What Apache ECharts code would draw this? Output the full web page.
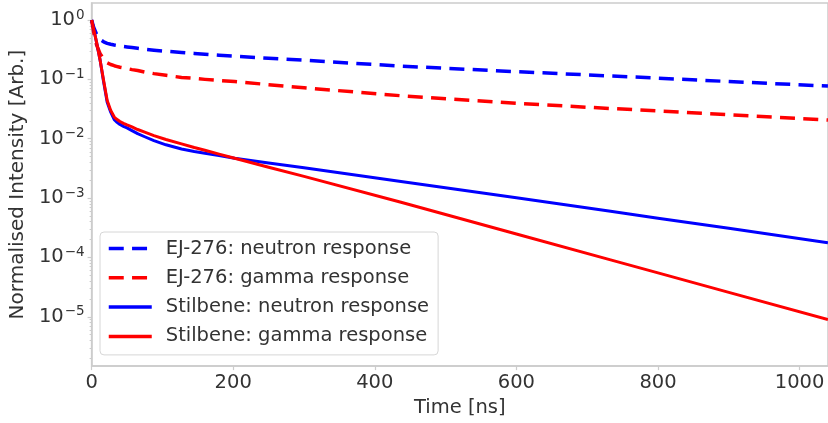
<!DOCTYPE html>
<html>
<head>
<meta charset="utf-8">
<script src="https://cdn.jsdelivr.net/npm/echarts@6/dist/echarts.min.js"></script>
<style>
html, body { margin: 0; padding: 0; background: #fff; }
#chart { width: 828px; height: 423px; }
</style>
</head>
<body>
<div id="chart"></div>
<script>
// time axis in ns, shared by all four curves
const times = [0, 3, 7, 12, 17, 22, 27, 32, 35, 40, 45, 50, 57, 65, 75, 88, 105, 127, 145, 160, 180, 202, 250, 300, 437, 600, 733, 800, 900, 1040]
const ej276Neutron = [1, 0.75, 0.58, 0.47, 0.43, 0.405, 0.39, 0.38, 0.375, 0.365, 0.358, 0.352, 0.344, 0.335, 0.322, 0.31, 0.297, 0.285, 0.274, 0.265, 0.255, 0.245, 0.227, 0.21, 0.167, 0.135, 0.114, 0.105, 0.092, 0.077]
const ej276Gamma = [1, 0.62, 0.38, 0.27, 0.22, 0.19, 0.178, 0.17, 0.166, 0.16, 0.156, 0.152, 0.146, 0.141, 0.133, 0.125, 0.117, 0.108, 0.104, 0.1, 0.096, 0.092, 0.0815, 0.072, 0.053, 0.0395, 0.0323, 0.0294, 0.0254, 0.0207]
const stilbeneNeutron = [1, 0.7, 0.42, 0.211, 0.09, 0.041, 0.028, 0.0209, 0.0193, 0.0174, 0.0162, 0.0152, 0.0137, 0.0122, 0.0108, 0.0093, 0.0079, 0.0067, 0.0061, 0.0057, 0.0052, 0.0047, 0.0039, 0.00324, 0.00191, 0.00101, 0.0006, 0.000458, 0.00031, 0.000177]
const stilbeneGamma = [1, 0.7, 0.42, 0.211, 0.095, 0.044, 0.03, 0.0232, 0.0215, 0.0195, 0.0182, 0.0171, 0.0158, 0.0143, 0.0129, 0.0113, 0.0097, 0.0082, 0.0071, 0.0064, 0.0055, 0.0047, 0.0033, 0.00232, 0.00085, 0.000248, 0.000091, 0.000055, 0.0000258, 0.000009]
const xTicks = [0, 200, 400, 600, 800, 1000]
const yTicks = [1e-5, 1e-4, 1e-3, 1e-2, 1e-1, 1]

const yMin = 1.476e-6
const yMax = 1.936
const font = 'DejaVu Sans'
const spine = '#cccccc'
const textColor = '#333333'

// minor ticks 2..9 x 10^n (matplotlib style)
const yMinor = []
for (let e = -6; e <= 0; e++) {
    for (let k = 2; k <= 9; k++) {
        const v = Number((k * Math.pow(10, e)).toPrecision(3))
        if (v > yMin && v < yMax) yMinor.push(v)
    }
}

const pairs = (vals) => times.map((t, i) => [t, vals[i]])

const supLabel = (v) => {
    const e = Math.round(Math.log10(v))
    return '{b|10}{s|' + (e < 0 ? '\u2212' + (-e) : e) + '}'
}

const makeLine = (name, vals, color, dashed) => ({
    name: name,
    type: 'line',
    data: pairs(vals),
    symbol: 'none',
    showSymbol: false,
    silent: true,
    itemStyle: { color: color },
    lineStyle: {
        color: color,
        width: dashed ? 3.5 : 3,
        type: dashed ? [15, 8.3] : 'solid',
        cap: 'butt',
        join: 'round'
    }
})

const myChart = echarts.init(document.getElementById('chart'))
myChart.setOption({
    animation: false,
    grid: {
        left: 89.5,
        top: 3,
        width: 739,
        height: 364,
        show: true,
        borderColor: spine,
        borderWidth: 1.5,
        backgroundColor: 'transparent'
    },
    legend: {
        orient: 'vertical',
        left: 100,
        top: 232,
        padding: [6, 9, 8, 7],
        itemWidth: 43,
        itemHeight: 14,
        itemGap: 8.3,
        backgroundColor: 'rgba(255,255,255,0.85)',
        borderColor: '#d6d6d6',
        borderWidth: 1,
        borderRadius: 4,
        lineStyle: { width: 3.5 },
        itemStyle: { opacity: 0 },
        textStyle: {
            fontFamily: font,
            fontSize: 19.5,
            color: textColor,
            lineHeight: 21,
            padding: [0, 0, 0, 9]
        }
    },
    xAxis: {
        type: 'value',
        min: 0,
        max: 1040.1,
        name: 'Time [ns]',
        nameLocation: 'middle',
        nameGap: 29,
        nameTextStyle: { fontFamily: font, fontSize: 19.5, color: textColor },
        axisLine: { show: true, lineStyle: { color: spine, width: 1.5 } },
        axisTick: { show: true, length: 4, customValues: xTicks, lineStyle: { color: spine, width: 1.2 } },
        axisLabel: {
            customValues: xTicks,
            margin: 7,
            formatter: (v) => String(v),
            fontFamily: font,
            fontSize: 19.5,
            color: textColor
        },
        splitLine: { show: false }
    },
    yAxis: [
        {
            type: 'log',
            min: yMin,
            max: yMax,
            name: 'Normalised Intensity [Arb.]',
            nameLocation: 'middle',
            nameGap: 57,
            nameTextStyle: { fontFamily: font, fontSize: 20, color: textColor },
            axisLine: { show: true, lineStyle: { color: spine, width: 1.5 } },
            axisTick: { show: true, length: 4, customValues: yTicks, lineStyle: { color: spine, width: 1.2 } },
            axisLabel: {
                customValues: yTicks,
                margin: 7,
                formatter: supLabel,
                rich: {
                    b: { fontFamily: font, fontSize: 19.5, color: textColor, lineHeight: 21 },
                    s: { fontFamily: font, fontSize: 13.5, color: textColor, lineHeight: 21, padding: [0, 0, 10, 1] }
                }
            },
            splitLine: { show: false }
        },
        {
            // minor ticks only
            type: 'log',
            min: yMin,
            max: yMax,
            position: 'left',
            axisLine: { show: false },
            axisTick: { show: true, length: 2, customValues: yMinor, lineStyle: { color: spine, width: 1 } },
            axisLabel: { show: false },
            splitLine: { show: false }
        }
    ],
    series: [
        makeLine('EJ-276: neutron response', ej276Neutron, '#0000ff', true),
        makeLine('EJ-276: gamma response', ej276Gamma, '#ff0000', true),
        makeLine('Stilbene: neutron response', stilbeneNeutron, '#0000ff', false),
        makeLine('Stilbene: gamma response', stilbeneGamma, '#ff0000', false)
    ]
})
</script>
</body>
</html>
